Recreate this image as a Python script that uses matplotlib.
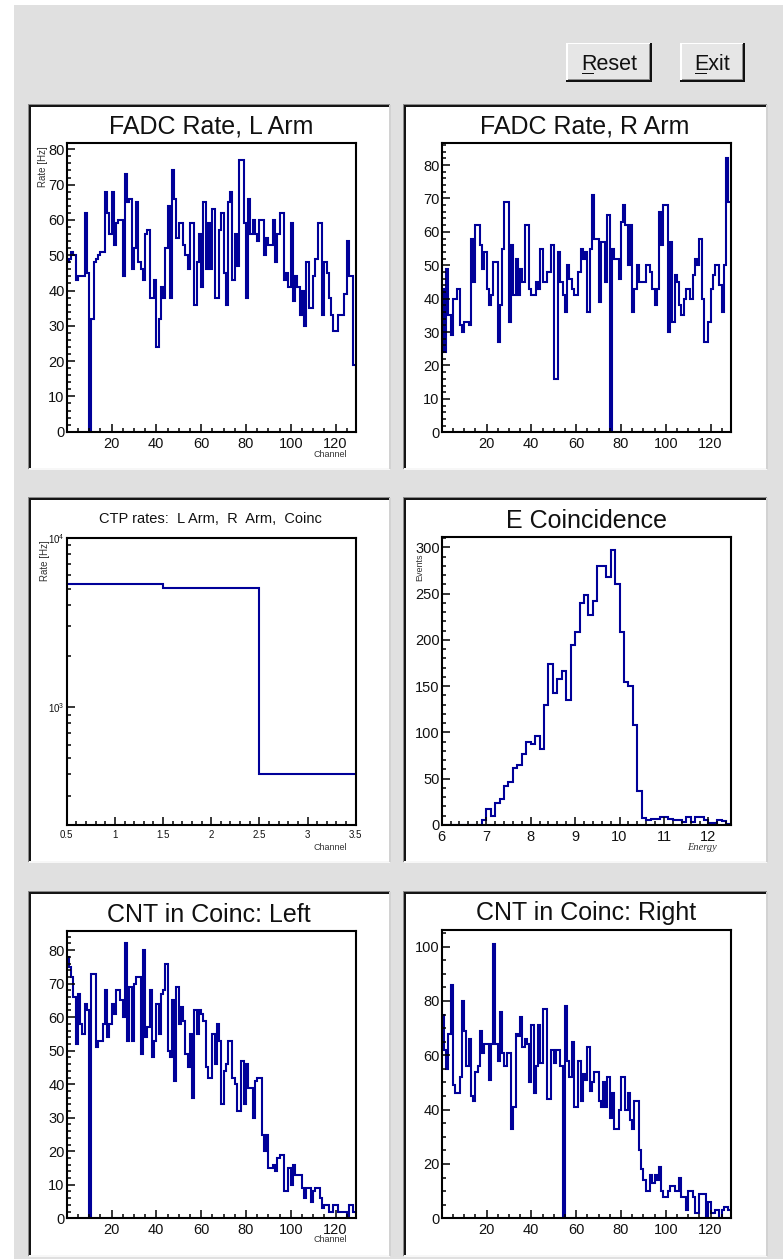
import numpy as np
import matplotlib.pyplot as plt
from matplotlib.patches import Rectangle
from matplotlib.ticker import MultipleLocator, LogLocator, NullFormatter, FormatStrFormatter

plt.rcParams["font.family"] = ["Liberation Sans", "DejaVu Sans"]

W, H = 783, 1259
BLUE = "#000099"
GUI_GREY = "#e0e0e0"

# ----------------------------------------------------
# Data
# ----------------------------------------------------

fadc_left = [48, 49, 51, 50, 43, 44, 44, 44, 62, 45,
             0, 32, 48, 49, 50, 51, 51, 68, 62, 56,
             68, 53, 59, 60, 60, 44, 73, 65, 66, 46,
             52, 65, 48, 46, 43, 56, 57, 38, 38, 43,
             24, 32, 41, 38, 52, 64, 38, 74, 66, 55,
             59, 59, 53, 50, 46, 59, 59, 36, 48, 56,
             41, 65, 46, 59, 46, 63, 38, 38, 57, 62,
             45, 36, 65, 68, 43, 56, 47, 77, 77, 59,
             38, 66, 56, 60, 56, 54, 60, 60, 50, 55,
             53, 53, 60, 48, 56, 62, 62, 43, 45, 41,
             59, 37, 44, 41, 33, 40, 30, 48, 35, 35,
             44, 49, 59, 59, 33, 48, 45, 38, 33, 28.5,
             28.5, 33, 33, 33, 39, 54, 44, 44, 19]

fadc_right = [43, 24, 49, 35, 29, 40, 40, 43, 32, 30,
              33, 33, 32, 58, 45, 62, 62, 56, 49, 54,
              43, 38, 41, 51, 51, 27, 38, 55, 69, 69,
              33, 56, 41, 52, 41, 49, 45, 62, 62, 43,
              41, 41, 45, 43, 55, 45, 45, 48, 48, 56,
              16, 16, 54, 45, 41, 36, 50, 46, 43, 41,
              41, 48, 55, 52, 54, 36, 55, 71, 58, 58,
              39, 57, 57, 45, 65, 0, 55, 52, 52, 46,
              63, 68, 62, 50, 62, 36, 43, 50, 45, 45,
              45, 50, 50, 48, 43, 38, 43, 66, 56, 68,
              68, 30, 57, 33, 47, 45, 38, 35, 40, 43,
              43, 40, 47, 52, 50, 58, 40, 27, 27, 33,
              43, 47, 50, 50, 44, 36, 50, 82, 69]

cnt_left = [78, 75, 72, 66, 52, 67, 58, 55, 64, 62,
            0, 73, 73, 51, 53, 53, 58, 68, 54, 58,
            64, 61, 68, 68, 65, 60, 82, 53, 69, 53,
            70, 72, 72, 49, 80, 54, 57, 68, 48, 53,
            64, 55, 67, 68, 76, 50, 48, 65, 41, 69,
            58, 63, 59, 49, 45, 55, 36, 62, 55, 62,
            61, 59, 45, 42, 42, 55, 46, 58, 53, 34,
            44, 46, 53, 53, 42, 40, 32, 32, 47, 34,
            46, 39, 39, 30, 41, 42, 42, 25, 20, 25,
            15, 15, 16, 14, 18, 19, 19, 8, 8, 15,
            10, 16, 13, 13, 13, 9, 6, 9, 9, 5,
            8, 9, 9, 6, 3, 4, 4, 2, 2, 4,
            4, 2, 2, 2, 2, 0, 4, 4, 2]

cnt_right = [75, 62, 55, 68, 86, 49, 46, 46, 52, 80,
             69, 56, 66, 45, 43, 54, 56, 69, 61, 64,
             64, 51, 64, 101, 64, 58, 76, 61, 56, 61,
             61, 33, 41, 68, 67, 74, 63, 66, 64, 50,
             71, 46, 56, 71, 57, 77, 77, 44, 44, 62,
             57, 62, 62, 56, 0, 78, 58, 52, 65, 41,
             41, 58, 43, 53, 51, 63, 47, 50, 54, 54,
             43, 41, 50, 41, 52, 37, 46, 33, 33, 40,
             52, 52, 40, 46, 36, 33, 43, 43, 25, 18,
             14, 10, 10, 16, 13, 16, 14, 19, 10, 8,
             8, 10, 12, 12, 10, 10, 15, 8, 8, 3,
             10, 10, 8, 2, 2, 9, 9, 9, 0, 6,
             2, 2, 3, 3, 0, 3, 4, 4, 3]

e_coinc = [0, 0, 0, 0, 0, 0, 0, 0, 0, 5,
           17, 10, 24, 28, 42, 47, 62, 65, 77, 90,
           87, 96, 82, 130, 174, 143, 158, 166, 135, 194,
           208, 240, 248, 227, 242, 280, 280, 268, 297, 260,
           208, 154, 150, 108, 37, 8, 5, 7, 7, 9,
           9, 7, 5, 5, 3, 9, 3, 9, 9, 5,
           2, 2, 5, 4, 1]

ctp_rates = [5340, 5060, 403]

channel_edges = np.arange(len(fadc_left) + 1)
energy_edges = np.linspace(6.0, 12.5, len(e_coinc) + 1)
ctp_edges = np.arange(len(ctp_rates) + 1) + 0.5


# ----------------------------------------------------
# helpers (all positions in screenshot pixels)
# ----------------------------------------------------

def px_box(x0, y0, x1, y1):
    return [x0 / W, 1 - y1 / H, (x1 - x0) / W, (y1 - y0) / H]


def rect(bg, x, y, w, h, color):
    bg.add_patch(Rectangle((x, y), w, h, facecolor=color, edgecolor="none", lw=0))


def draw_pad(bg, x0, y0, x1, y1):
    # sunken ROOT pad: dark top/left edge, light bottom/right edge
    rect(bg, x0, y0, x1 - x0, y1 - y0, "white")
    rect(bg, x0 - 1, y0 - 1, x1 - x0 + 1, 1.2, "#8a8a8a")
    rect(bg, x0 - 1, y0 - 1, 1.2, y1 - y0 + 1, "#8a8a8a")
    rect(bg, x0, y0, x1 - x0 - 1, 2.2, "#151515")
    rect(bg, x0, y0, 2.2, y1 - y0 - 1, "#151515")
    rect(bg, x0, y1 - 1, x1 - x0, 1.5, "#f7f7f7")
    rect(bg, x1 - 1, y0, 1.5, y1 - y0, "#d2d2d2")


def draw_button(bg, x0, y0, x1, y1, label, text_x):
    rect(bg, x0, y0, x1 - x0, y1 - y0, "#e6e6e6")
    rect(bg, x0, y0, x1 - x0, 1.5, "white")
    rect(bg, x0, y0, 1.5, y1 - y0, "white")
    rect(bg, x0, y1 - 2, x1 - x0, 2, "#111111")
    rect(bg, x1 - 2, y0, 2, y1 - y0, "#111111")
    rect(bg, x0 + 1.5, y1 - 3, x1 - x0 - 3.5, 1, "#8c8c8c")
    rect(bg, x1 - 3, y0 + 1.5, 1, y1 - y0 - 3.5, "#8c8c8c")
    size = 15.5
    bg.text(text_x, 70, label, fontsize=size, ha="left", va="baseline", color="#111111")
    em = size * 100 / 72
    rect(bg, text_x + 0.5, 72.8, 0.6 * em, 1.4, "#111111")


def style_axes(ax, labelsize=10.5):
    ax.set_facecolor("white")
    for s in ax.spines.values():
        s.set_linewidth(1.5)
        s.set_color("black")
    ax.tick_params(which="both", direction="in", top=False, right=False,
                   width=1.1, color="black", labelcolor="#111111", labelsize=labelsize)
    ax.tick_params(which="major", length=6)
    ax.tick_params(which="minor", length=3)
    ax.tick_params(axis="y", which="both", pad=1.5)
    ax.tick_params(axis="x", which="both", pad=3.5)


def channel_hist(box, values, ymax, ymajor, yminor):
    ax = fig.add_axes(px_box(*box))
    ax.stairs(values, channel_edges, color=BLUE, lw=1.5, baseline=None)
    ax.set_xlim(0, 129)
    ax.set_ylim(0, ymax)
    ax.set_xticks([20, 40, 60, 80, 100, 120])
    ax.xaxis.set_minor_locator(MultipleLocator(5))
    ax.yaxis.set_major_locator(MultipleLocator(ymajor))
    ax.yaxis.set_minor_locator(MultipleLocator(yminor))
    style_axes(ax)
    return ax


# ----------------------------------------------------
# figure
# ----------------------------------------------------

fig = plt.figure(figsize=(W / 100, H / 100), dpi=100)
fig.patch.set_facecolor(GUI_GREY)

bg = fig.add_axes([0, 0, 1, 1])
bg.set_xlim(0, W)
bg.set_ylim(H, 0)
bg.axis("off")

rect(bg, 0, 0, W, 5, "white")
rect(bg, 0, 0, 14, H, "white")

draw_button(bg, 566, 42.5, 651.5, 82, "Reset", 581)
draw_button(bg, 680, 42.5, 744.5, 82, "Exit", 694)

for x0, x1 in [(29, 390), (404, 767)]:
    for y0, y1 in [(105, 469), (498, 862), (892, 1256)]:
        draw_pad(bg, x0, y0, x1, y1)

# titles
bg.text(211, 133.3, "FADC Rate, L Arm", fontsize=18, ha="center", va="baseline", color="#111111")
bg.text(585, 133.3, "FADC Rate, R Arm", fontsize=18, ha="center", va="baseline", color="#111111")
bg.text(210, 523.3, "CTP rates:  L Arm,  R  Arm,  Coinc", fontsize=10.5, ha="center", va="baseline",
        color="#111111")
bg.text(587, 528.3, "E Coincidence", fontsize=18, ha="center", va="baseline", color="#111111")
bg.text(209, 921.7, "CNT in Coinc: Left", fontsize=18, ha="center", va="baseline", color="#111111")
bg.text(586, 920, "CNT in Coinc: Right", fontsize=18, ha="center", va="baseline", color="#111111")

# axis titles (ROOT puts them at the far end of the axis)
bg.text(43.5, 146, "Rate [Hz]", fontsize=7, rotation=90, ha="center", va="top", color="#333333")
bg.text(45, 540, "Rate [Hz]", fontsize=7, rotation=90, ha="center", va="top", color="#333333")
bg.text(420, 567, "Events", fontsize=6.5, rotation=90, ha="center", va="center", color="#333333")
bg.text(347, 454, "Channel", fontsize=6.5, ha="right", va="center", color="#333333")
bg.text(347, 847, "Channel", fontsize=6.5, ha="right", va="center", color="#333333")
bg.text(347, 1240, "Channel", fontsize=6.5, ha="right", va="center", color="#333333")
bg.text(702, 847, "Energy", fontsize=7.5, ha="center", va="center", color="#333333",
        family="Liberation Serif", style="italic")

# FADC rates
channel_hist((66.7, 143.3, 355.7, 431.7), fadc_left, 81.7, 10, 2)
channel_hist((441.7, 143.3, 730.7, 432.3), fadc_right, 86.5, 10, 2)

# CTP rates (log scale)
ax_ctp = fig.add_axes(px_box(66.7, 537.7, 355.7, 825))
ax_ctp.stairs(ctp_rates, ctp_edges, color=BLUE, lw=1.5, baseline=None)
ax_ctp.set_yscale("log")
ax_ctp.set_xlim(0.5, 3.5)
ax_ctp.set_ylim(201, 10000)
ax_ctp.xaxis.set_major_locator(MultipleLocator(0.5))
ax_ctp.xaxis.set_minor_locator(MultipleLocator(0.1))
ax_ctp.xaxis.set_major_formatter(FormatStrFormatter("%g"))
ax_ctp.yaxis.set_major_locator(LogLocator(base=10))
ax_ctp.yaxis.set_minor_locator(LogLocator(base=10, subs=np.arange(2, 10)))
ax_ctp.yaxis.set_minor_formatter(NullFormatter())
style_axes(ax_ctp, labelsize=7)

# Energy coincidence
ax_e = fig.add_axes(px_box(441.7, 536.7, 730.7, 825))
ax_e.stairs(e_coinc, energy_edges, color=BLUE, lw=1.5, baseline=None)
ax_e.set_xlim(6, 12.5)
ax_e.set_ylim(0, 311.5)
ax_e.xaxis.set_major_locator(MultipleLocator(1))
ax_e.xaxis.set_minor_locator(MultipleLocator(0.2))
ax_e.yaxis.set_major_locator(MultipleLocator(50))
ax_e.yaxis.set_minor_locator(MultipleLocator(10))
style_axes(ax_e)

# CNT in coincidence
channel_hist((66.7, 930.7, 355.7, 1218.3), cnt_left, 85.8, 10, 2)
channel_hist((441.7, 930, 730.7, 1218.3), cnt_right, 106.1, 20, 5)

fig.savefig("out.png", dpi=100, facecolor=fig.get_facecolor())
